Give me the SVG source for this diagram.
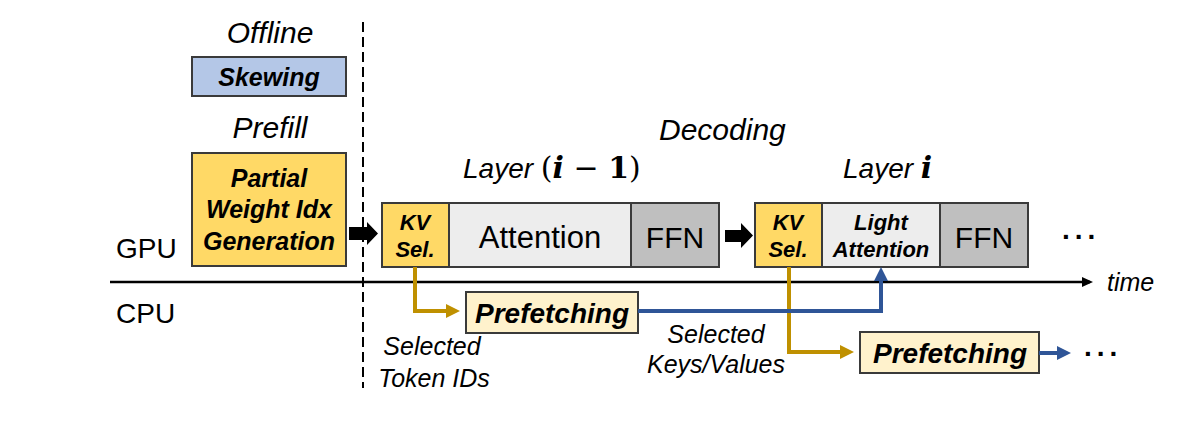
<svg xmlns="http://www.w3.org/2000/svg" width="1193" height="423" viewBox="0 0 1193 423">
<style>
  .box{stroke:#3a3a3a;stroke-width:2}
  .gold{fill:#FFD966}
  .blue{fill:#B4C7E7}
  .light{fill:#EDEDED}
  .grey{fill:#BFBFBF}
  .pre{fill:#FFF2CC}
  text{font-family:"Liberation Sans",Arial,sans-serif;fill:#000}
  .it{font-style:italic}
  .bi{font-style:italic;font-weight:bold}
  .c{text-anchor:middle}
  .math{font-family:"DejaVu Serif","Liberation Serif",serif;font-size:30px}
</style>
<defs>
  <marker id="hGold" markerUnits="userSpaceOnUse" markerWidth="15" markerHeight="14" refX="10" refY="7" orient="auto">
    <path d="M0,0 L14,7 L0,14 z" fill="#BF9000"/>
  </marker>
  <marker id="hBlue" markerUnits="userSpaceOnUse" markerWidth="15" markerHeight="14" refX="10" refY="7" orient="auto">
    <path d="M0,0 L14,7 L0,14 z" fill="#2F5597"/>
  </marker>
  <marker id="hBlack" markerUnits="userSpaceOnUse" markerWidth="12" markerHeight="10" refX="8" refY="5" orient="auto">
    <path d="M0,0 L11,5 L0,10 z" fill="#000"/>
  </marker>
</defs>
<rect width="1193" height="423" fill="#fff"/>

<g id="phase-labels">
  <text class="it c" x="270" y="43" font-size="30">Offline</text>
  <text class="it c" x="270" y="138" font-size="30">Prefill</text>
  <text class="it" x="659" y="140" font-size="30">Decoding</text>
  <text x="116" y="258" font-size="28">GPU</text>
  <text x="116" y="323" font-size="28">CPU</text>
  <text class="it" x="1107" y="291" font-size="25">time</text>
</g>

<g id="divider">
  <line x1="363" y1="22" x2="363" y2="388" stroke="#000" stroke-width="2" stroke-dasharray="10,5"/>
</g>

<g id="skewing">
  <rect class="box blue" x="192" y="57" width="154" height="39"/>
  <text class="bi c" x="269" y="86" font-size="25">Skewing</text>
</g>

<g id="partial-weight">
  <rect class="box gold" x="192" y="153" width="154" height="113"/>
  <text class="bi c" x="269" y="187" font-size="25">Partial</text>
  <text class="bi c" x="269" y="218" font-size="25">Weight Idx</text>
  <text class="bi c" x="269" y="250" font-size="25">Generation</text>
</g>

<g id="layer-prev">
  <text class="it" x="463" y="178" font-size="28">Layer <tspan class="math" font-style="normal">(</tspan><tspan class="math" font-weight="bold" font-style="italic">i</tspan><tspan class="math" font-style="normal"> − </tspan><tspan class="math" font-weight="bold" font-style="normal">1</tspan><tspan class="math" font-style="normal">)</tspan></text>
  <g id="kvsel-1">
    <rect class="box gold" x="382" y="203" width="67" height="64"/>
    <text class="bi c" x="415" y="230" font-size="22">KV</text>
    <text class="bi c" x="415" y="257" font-size="22">Sel.</text>
  </g>
  <g id="attention-1">
    <rect class="box light" x="449" y="203" width="182" height="64"/>
    <text class="c" x="540" y="248" font-size="31">Attention</text>
  </g>
  <g id="ffn-1">
    <rect class="box grey" x="631" y="203" width="88" height="64"/>
    <text class="c" x="675" y="248" font-size="30">FFN</text>
  </g>
</g>

<g id="layer-i">
  <text class="it" x="843" y="178" font-size="28">Layer <tspan class="math" font-weight="bold" font-style="italic">i</tspan></text>
  <g id="kvsel-2">
    <rect class="box gold" x="755" y="203" width="67" height="64"/>
    <text class="bi c" x="788" y="230" font-size="22">KV</text>
    <text class="bi c" x="788" y="257" font-size="22">Sel.</text>
  </g>
  <g id="light-attention">
    <rect class="box light" x="822" y="203" width="118" height="64"/>
    <text class="bi c" x="881" y="230" font-size="22">Light</text>
    <text class="bi c" x="881" y="257" font-size="22">Attention</text>
  </g>
  <g id="ffn-2">
    <rect class="box grey" x="940" y="203" width="88" height="64"/>
    <text class="c" x="984" y="248" font-size="30">FFN</text>
  </g>
</g>

<g id="more-gpu">
  <text x="1062" y="239" font-size="28" font-weight="bold" letter-spacing="5">...</text>
</g>

<g id="prefetching-1">
  <rect class="box pre" x="466" y="292" width="172" height="41"/>
  <text class="bi c" x="552" y="323" font-size="28">Prefetching</text>
</g>

<g id="prefetching-2">
  <rect class="box pre" x="860" y="332" width="179" height="41"/>
  <text class="bi c" x="950" y="363" font-size="28">Prefetching</text>
</g>

<g id="more-cpu">
  <text x="1084" y="356" font-size="28" font-weight="bold" letter-spacing="5">...</text>
</g>

<g id="connector-labels">
  <text class="it c" x="432" y="355" font-size="25">Selected</text>
  <text class="it c" x="434" y="387" font-size="25">Token IDs</text>
  <text class="it c" x="716" y="343" font-size="25">Selected</text>
  <text class="it c" x="716" y="373" font-size="25">Keys/Values</text>
</g>

<g id="connectors">
  <line x1="110" y1="282" x2="1090" y2="282" stroke="#000" stroke-width="2.5" marker-end="url(#hBlack)"/>
  <polygon points="349,227 367,227 367,222 378,233.5 367,245 367,240 349,240" fill="#000"/>
  <polygon points="725,230 741,230 741,223 753,235.5 741,248 741,242 725,242" fill="#000"/>
  <path d="M415,267 V311 H456" fill="none" stroke="#BF9000" stroke-width="4" marker-end="url(#hGold)"/>
  <path d="M789,267 V352 H850" fill="none" stroke="#BF9000" stroke-width="4" marker-end="url(#hGold)"/>
  <path d="M638,311 H881 V271" fill="none" stroke="#2F5597" stroke-width="4" marker-end="url(#hBlue)"/>
  <path d="M1039,353 H1067" fill="none" stroke="#2F5597" stroke-width="4" marker-end="url(#hBlue)"/>
</g>
</svg>
